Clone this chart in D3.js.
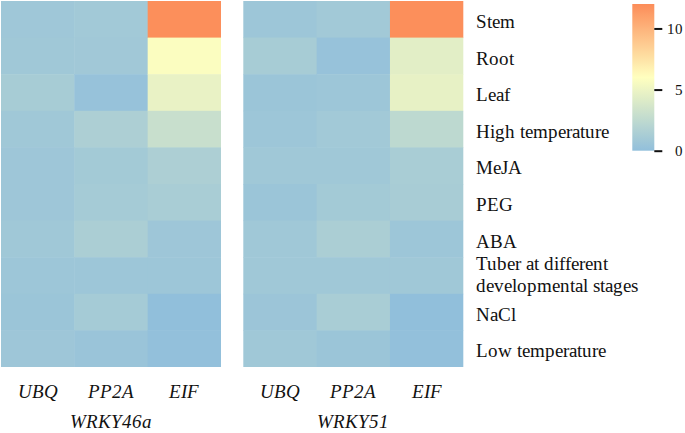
<!DOCTYPE html>
<html>
<head>
<meta charset="utf-8">
<script src="https://cdn.jsdelivr.net/npm/d3@7/dist/d3.min.js"></script>
<style>
  @font-face { font-family: "ChartSerif"; src: local("Liberation Serif"), local("LiberationSerif"), local("Tinos"); font-style: normal; }
  @font-face { font-family: "ChartSerif"; src: local("Liberation Serif Italic"), local("LiberationSerif-Italic"), local("Tinos Italic"); font-style: italic; }
  svg text { font-family: "ChartSerif", "Liberation Serif", Tinos, serif !important; }
</style>
</head>
<body style="margin:0;padding:0;background:#fff;">
<svg id="chart" width="685" height="433" style="display:block"></svg>
<script>
// ---- data ----
const conditions = ["Stem", "Root", "Leaf", "High temperature", "MeJA", "PEG", "ABA",
  "Tuber at different developmental stages", "NaCl", "Low temperature"];
const refGenes = ["UBQ", "PP2A", "EIF"];
const genes = ["WRKY46a", "WRKY51"];

const wrky46a_UBQ  = [0.75, 0.8, 1.2, 0.8, 0.7, 0.7, 0.8, 0.65, 0.55, 0.7];
const wrky46a_PP2A = [0.9, 0.85, 0.3, 1.5, 1.0, 1.1, 1.4, 0.65, 1.1, 0.5];
const wrky46a_EIF  = [11.9, 5.8, 4.8, 3.0, 1.5, 1.3, 0.7, 0.65, 0.0, 0.1];

const wrky51_UBQ   = [0.65, 1.2, 0.55, 0.65, 0.8, 0.55, 0.8, 0.8, 0.6, 0.8];
const wrky51_PP2A  = [0.9, 0.3, 0.65, 0.9, 0.8, 1.0, 1.4, 0.8, 1.3, 0.55];
const wrky51_EIF   = [11.9, 4.4, 4.7, 2.4, 1.3, 1.25, 0.65, 0.8, 0.0, 0.1];

const colorTicks = [0, 5, 10];
const colorDomain = [0, 6, 12];

// ---- build table ----
const seriesByGene = {
  "WRKY46a": [wrky46a_UBQ, wrky46a_PP2A, wrky46a_EIF],
  "WRKY51": [wrky51_UBQ, wrky51_PP2A, wrky51_EIF]
};
const cells = [];
genes.forEach(g => {
  seriesByGene[g].forEach((vals, ri) => {
    vals.forEach((v, ci) => cells.push({gene: g, ref: refGenes[ri], cond: conditions[ci], value: v}));
  });
});

// ---- layout ----
const FONT = "Liberation Serif";
const fs = 19;
const svg = d3.select("#chart");
const panelX = {"WRKY46a": [1, 221], "WRKY51": [243.3, 463.3]};
const gridTop = 1, gridBottom = 367;

function serif(sel, size) {
  return sel.attr("font-family", FONT).attr("font-size", size)
    .attr("fill", "#111");
}

const color = d3.scaleLinear().domain(colorDomain)
  .range(["#91bfdb", "#ffffbf", "#fc8d59"]).clamp(true);

const y = d3.scaleBand().domain(conditions).range([gridTop, gridBottom]).padding(0);
const xScales = {};
genes.forEach(g => {
  xScales[g] = d3.scaleBand().domain(refGenes).range(panelX[g]).padding(0);
});

// cells
svg.append("g").selectAll("rect").data(cells).join("rect")
  .attr("x", d => xScales[d.gene](d.ref))
  .attr("y", d => y(d.cond))
  .attr("width", d => xScales[d.gene].bandwidth() + (d.ref === "EIF" ? 0 : 0.5))
  .attr("height", d => y.bandwidth() + (d.cond === "Low temperature" ? 0 : 0.5))
  .attr("fill", d => color(d.value));

// column labels
genes.forEach(g => {
  const xs = xScales[g];
  refGenes.forEach(r => {
    serif(svg.append("text"), fs)
      .attr("x", xs(r) + xs.bandwidth() / 2)
      .attr("y", 398)
      .attr("text-anchor", "middle")
      .attr("font-style", "italic")
      .text(r);
  });
  serif(svg.append("text"), fs)
    .attr("x", (panelX[g][0] + panelX[g][1]) / 2)
    .attr("y", 428)
    .attr("text-anchor", "middle")
    .attr("font-style", "italic")
    .text(g);
});

// row labels
const labelX = 476;
conditions.forEach(c => {
  const cy = y(c) + y.bandwidth() / 2;
  if (c.startsWith("Tuber")) {
    const t = serif(svg.append("text"), fs).attr("x", labelX).attr("y", cy);
    t.append("tspan").attr("x", labelX).attr("dy", -5.5).text("Tuber at different");
    t.append("tspan").attr("x", labelX).attr("dy", 21.7).text("developmental stages");
  } else {
    serif(svg.append("text"), fs)
      .attr("x", labelX)
      .attr("y", cy + 8.7)
      .text(c);
  }
});

// colorbar
const cbX = 632.3, cbW = 22, cbTop = 4, cbBottom = 150.7;
const cbScale = d3.scaleLinear().domain([colorDomain[0], colorDomain[colorDomain.length - 1]])
  .range([cbBottom, cbTop]);
const defs = svg.append("defs");
const grad = defs.append("linearGradient").attr("id", "cbgrad")
  .attr("x1", "0").attr("y1", "1").attr("x2", "0").attr("y2", "0");
d3.range(0, 1.0001, 0.05).forEach(t => {
  const v = colorDomain[0] + t * (colorDomain[colorDomain.length - 1] - colorDomain[0]);
  grad.append("stop").attr("offset", t).attr("stop-color", color(v));
});
svg.append("rect")
  .attr("x", cbX).attr("y", cbTop)
  .attr("width", cbW).attr("height", cbBottom - cbTop)
  .attr("fill", "url(#cbgrad)");

const cbAxis = svg.append("g").attr("transform", `translate(${cbX + cbW},0)`)
  .call(d3.axisRight(cbScale).tickValues(colorTicks).tickSize(8).tickPadding(6).tickFormat(d3.format("d")));
cbAxis.select(".domain").remove();
cbAxis.attr("font-family", FONT).attr("font-size", 15);
cbAxis.selectAll(".tick line").attr("stroke", "#111").attr("stroke-width", 2);
cbAxis.selectAll(".tick text").each(function() {
  serif(d3.select(this), 15).attr("text-anchor", "end").attr("x", 29);
});
</script>
</body>
</html>
